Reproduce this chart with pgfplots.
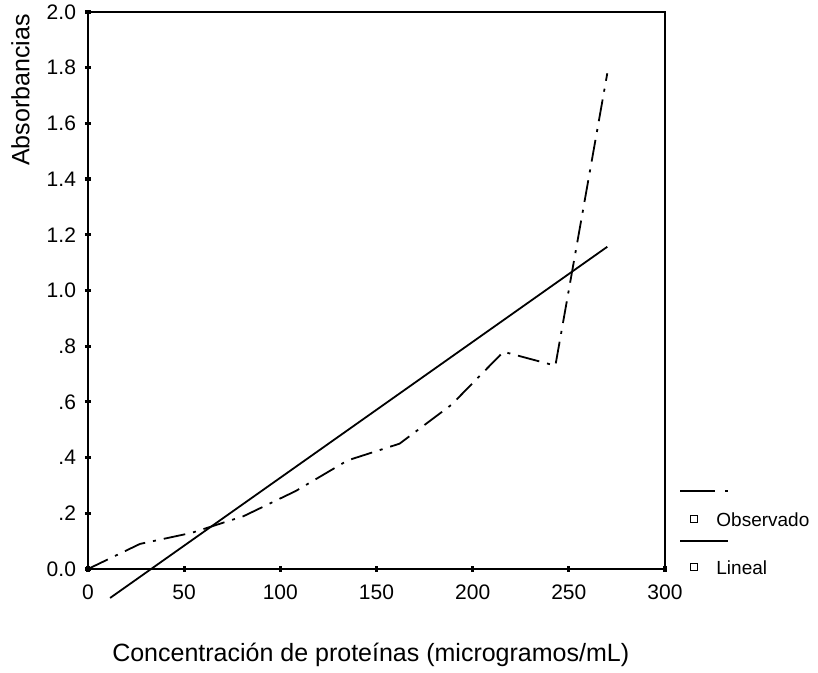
\documentclass[border=0pt]{standalone}
\usepackage{pgfplots}
\pgfplotsset{compat=1.18}
\usepackage{fontspec}
\setmainfont{Liberation Sans}
\begin{document}
\begin{tikzpicture}
\path[use as bounding box] (-44pt,-52pt) rectangle (365pt,284.5pt);
\begin{axis}[
  at={(0,0)}, anchor=south west,
  scale only axis, width=288.5pt, height=278.5pt,
  xmin=0, xmax=300, ymin=0, ymax=2,
  clip=false,
  axis line style={line width=0.8pt},
  xtick={0,50,100,150,200,250,300},
  ytick={0,0.2,0.4,0.6,0.8,1.0,1.2,1.4,1.6,1.8,2.0},
  yticklabels={0.0,.2,.4,.6,.8,1.0,1.2,1.4,1.6,1.8,2.0},
  /pgf/number format/assume math mode=true,
  tick label style={font=\fontsize{10.5}{12}\selectfont},
  xtick pos=bottom, ytick pos=left,
  tick align=center, major tick length=3pt,
  every tick/.style={line width=1.6pt, black},
  xticklabel style={yshift=-3pt},
  yticklabel style={xshift=-1pt},
  xlabel={Concentración de proteínas (microgramos/mL)},
  ylabel={Absorbancias},
  label style={font=\fontsize{12.5}{14}\selectfont},
  xlabel style={at={(axis description cs:0.49,-0.154)}, anchor=center},
  ylabel style={at={(axis description cs:-0.117,0.86)}, anchor=center, rotate=0},
]
\addplot[black, line width=0.9pt, dash pattern=on 11pt off 4pt on 1.5pt off 4pt] coordinates {
  (0,0) (27,0.09) (54,0.13) (81,0.19) (108,0.28) (135,0.39) (162,0.45) (189,0.59) (216,0.78) (243,0.73) (270,1.78)
};
\addplot[black, line width=0.9pt] coordinates {
  (11.5,-0.104) (270,1.157)
};
\end{axis}
\draw[black, line width=0.9pt] (296pt,39pt) -- (313.5pt,39pt) (318.5pt,39pt) -- (320pt,39pt);
\draw[black, line width=0.8pt] (301.3pt,23.3pt) rectangle (304.7pt,26.7pt);
\node[anchor=west, font=\fontsize{9.5}{11}\selectfont, inner sep=0pt] at (314pt,24.5pt) {Observado};
\draw[black, line width=0.9pt] (296pt,14pt) -- (320pt,14pt);
\draw[black, line width=0.8pt] (301.3pt,-0.7pt) rectangle (304.7pt,2.7pt);
\node[anchor=west, font=\fontsize{9.5}{11}\selectfont, inner sep=0pt] at (314pt,0.5pt) {Lineal};
\end{tikzpicture}
\end{document}
